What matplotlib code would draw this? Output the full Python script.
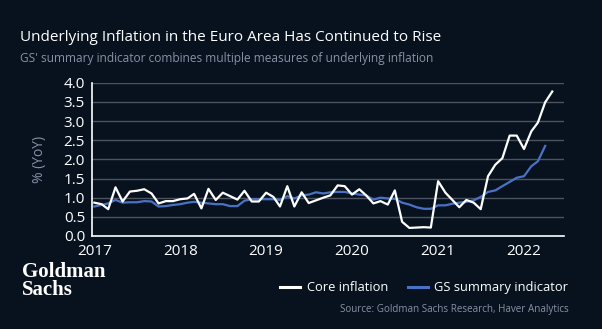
import numpy as np
import pandas as pd
import matplotlib
matplotlib.use('Agg')
import matplotlib.pyplot as plt
import matplotlib.dates as mdates

# ---------------------------------------------------------------------------
# Data, monthly from Jan 2017
# ---------------------------------------------------------------------------
core_inflation = [
    0.87, 0.83, 0.70, 1.27, 0.90, 1.16, 1.18, 1.22, 1.11, 0.85, 0.91, 0.91,   # 2017
    0.96, 0.98, 1.10, 0.72, 1.23, 0.94, 1.13, 1.04, 0.95, 1.18, 0.90, 0.90,   # 2018
    1.13, 1.02, 0.77, 1.30, 0.77, 1.14, 0.86, 0.93, 1.00, 1.06, 1.32, 1.30,   # 2019
    1.08, 1.22, 1.06, 0.85, 0.91, 0.82, 1.19, 0.37, 0.21, 0.22, 0.23, 0.22,   # 2020
    1.43, 1.13, 0.95, 0.75, 0.94, 0.87, 0.70, 1.56, 1.86, 2.03, 2.62, 2.62,   # 2021
    2.27, 2.73, 2.96, 3.49, 3.77,                                             # 2022
]
gs_summary = [
    0.77, 0.81, 0.85, 0.94, 0.87, 0.88, 0.88, 0.91, 0.90, 0.77, 0.78, 0.81,   # 2017
    0.83, 0.87, 0.89, 0.87, 0.85, 0.83, 0.83, 0.78, 0.78, 0.92, 0.96, 0.96,   # 2018
    0.96, 0.96, 0.94, 1.04, 0.98, 1.06, 1.08, 1.14, 1.11, 1.14, 1.15, 1.15,   # 2019
    1.11, 1.08, 1.06, 0.95, 1.00, 0.98, 0.97, 0.87, 0.82, 0.75, 0.71, 0.71,   # 2020
    0.80, 0.80, 0.84, 0.87, 0.89, 0.93, 1.02, 1.15, 1.19, 1.30, 1.41, 1.52,   # 2021
    1.56, 1.82, 1.95, 2.35,                                                   # 2022
]
core_dates = pd.date_range('2017-01-01', periods=len(core_inflation), freq='MS')
gs_dates = pd.date_range('2017-01-01', periods=len(gs_summary), freq='MS')

year_ticks = pd.to_datetime(['2017-01-01', '2018-01-01', '2019-01-01',
                             '2020-01-01', '2021-01-01', '2022-01-01'])
y_ticks = [0.0, 0.5, 1.0, 1.5, 2.0, 2.5, 3.0, 3.5, 4.0]

BG = '#08121f'
BLUE = '#4a72c4'
GRID = '#4b535f'
MUTED = '#8593a6'

plt.rcParams['font.family'] = ['Open Sans', 'DejaVu Sans']

fig = plt.figure(figsize=(6.02, 3.29), dpi=100, facecolor=BG)
ax = fig.add_axes([0.1528, 0.2827, 0.7841, 0.4659], facecolor=BG)

ax.plot(core_dates, core_inflation, color='white', lw=1.6, zorder=3,
        label='Core inflation')
ax.plot(gs_dates, gs_summary, color=BLUE, lw=1.6, zorder=2,
        label='GS summary indicator')

ax.set_xlim(pd.Timestamp('2016-12-22'), pd.Timestamp('2022-06-20'))
ax.set_ylim(0, 4.0)
ax.set_yticks(y_ticks)
ax.set_yticklabels([f'{v:.1f}' for v in y_ticks])
ax.set_xticks(year_ticks)
ax.xaxis.set_major_formatter(mdates.DateFormatter('%Y'))

for v in y_ticks[1:]:
    ax.axhline(v, color=GRID, lw=1.0, zorder=1)

for side in ['top', 'right']:
    ax.spines[side].set_visible(False)
for side in ['left', 'bottom']:
    ax.spines[side].set_color('white')
    ax.spines[side].set_linewidth(1.2)

ax.tick_params(axis='both', length=0, colors='white', labelsize=11)
ax.tick_params(axis='x', pad=6)
ax.tick_params(axis='y', pad=5)
ax.set_ylabel('% (YoY)', color=MUTED, fontsize=10, labelpad=12)

# titles
fig.text(0.033, 0.885, 'Underlying Inflation in the Euro Area Has Continued to Rise',
         color='white', fontsize=10.95, ha='left', va='center')
fig.text(0.033, 0.822, "GS' summary indicator combines multiple measures of underlying inflation",
         color=MUTED, fontsize=8.6, ha='left', va='center')

# logo
fig.text(0.036, 0.146, 'Goldman\nSachs', color='white', fontsize=15,
         family='Liberation Serif', weight='bold',
         ha='left', va='center', linespacing=0.85)

# legend
leg = fig.legend(loc='center right', bbox_to_anchor=(0.9435, 0.125), ncol=2,
                 frameon=False, fontsize=9.3, handlelength=1.55,
                 columnspacing=1.5, handletextpad=0.5,
                 borderpad=0, borderaxespad=0)
for t in leg.get_texts():
    t.set_color('white')
for h in leg.get_lines():
    h.set_linewidth(2.2)

fig.text(0.944, 0.058, 'Source: Goldman Sachs Research, Haver Analytics',
         color=MUTED, fontsize=7.1, ha='right', va='center')

fig.savefig('out.png', dpi=100, facecolor=BG)
